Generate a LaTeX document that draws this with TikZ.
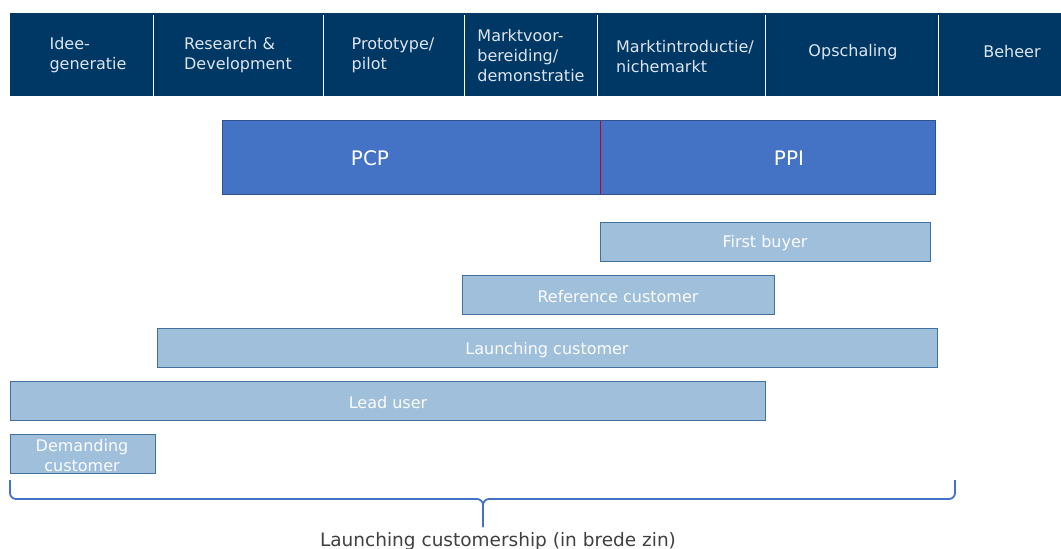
\documentclass[tikz,border=0pt]{standalone}
\usepackage{fontspec}
\setmainfont{DejaVu Sans}
\begin{document}
\definecolor{navy}{HTML}{003865}
\definecolor{headtext}{HTML}{DDE4EE}
\definecolor{pcpblue}{HTML}{4472C4}
\definecolor{pcpedge}{HTML}{2F528F}
\definecolor{barfill}{HTML}{9FBFDB}
\definecolor{baredge}{HTML}{41719C}
\definecolor{labelgrey}{HTML}{404040}
\begin{tikzpicture}[x=1pt,y=-1pt,
  cell/.style={fill=navy,draw=none,anchor=north west,inner sep=0pt,minimum height=83pt},
  divider/.style={draw=white,line width=0.9pt},
  headlabel/.style={text=headtext,align=left,inner sep=0pt,font=\fontsize{16}{20}\selectfont},
  phasebox/.style={fill=pcpblue,draw=pcpedge,line width=0.8pt,anchor=north west,inner sep=0pt,minimum height=74pt},
  phaselabel/.style={text=white,inner sep=0pt,font=\fontsize{20}{24}\selectfont},
  bar/.style={fill=barfill,draw=baredge,line width=0.8pt,anchor=north west,inner sep=0pt,minimum height=39pt},
  barlabel/.style={text=white!96!barfill,inner sep=0pt,align=center,font=\fontsize{16}{20}\selectfont},
  brace/.style={draw=pcpblue,line width=1.8pt,rounded corners=6pt}
]
\useasboundingbox[fill=white] (0,0) rectangle (1061,549);

% phase header band
\node[cell,minimum width=1051pt] (band) at (10,13) {};
\foreach \x/\n in {153/d1,323/d2,464/d3,597/d4,765/d5,938/d6}{
  \coordinate (\n t) at (\x,15);
  \coordinate (\n b) at (\x,96);
  \draw[divider] (\n t) -- (\n b);
}
\node[headlabel] (h1) at (88,55) {Idee-\\generatie};
\node[headlabel] (h2) at (238,55) {Research \&\\Development};
\node[headlabel] (h3) at (393,55) {Prototype/\\pilot};
\node[headlabel] (h4) at (531,56) {Marktvoor-\\bereiding/\\demonstratie};
\node[headlabel] (h5) at (685,57) {Marktintroductie/\\nichemarkt};
\node[headlabel] (h6) at (853,52) {Opschaling};
\node[headlabel] (h7) at (1012,52) {Beheer};

% procurement phases
\node[phasebox,minimum width=713pt] (pcpppi) at (222,120) {};
\coordinate (splitT) at (600,120.5);
\coordinate (splitB) at (600,193.5);
\draw[red!80!black,line width=0.8pt] (splitT) -- (splitB);
\node[phaselabel] (pcp) at (370,158) {PCP};
\node[phaselabel] (ppi) at (789,158) {PPI};

% customer roles
\node[bar,minimum width=330pt] (first) at (600,222) {};
\node[barlabel] (firstT) at (765,243.5) {First buyer};
\node[bar,minimum width=312pt] (ref) at (462,275) {};
\node[barlabel] (refT) at (618,296.5) {Reference customer};
\node[bar,minimum width=780pt] (launch) at (157,328) {};
\node[barlabel] (launchT) at (547,350.5) {Launching customer};
\node[bar,minimum width=755pt] (lead) at (10,381) {};
\node[barlabel] (leadT) at (388,403) {Lead user};
\node[bar,minimum width=145pt] (demand) at (10,434) {};
\node[barlabel,font=\fontsize{16}{20}\selectfont] (demandT) at (82,455.5) {Demanding\\customer};

% brace spanning all roles
\coordinate (bl) at (10,480);
\coordinate (blc) at (10,499);
\coordinate (br) at (955,480);
\coordinate (brc) at (955,499);
\coordinate (mid) at (483,499);
\coordinate (tip) at (483,527);
\draw[brace] (bl) -- (blc) -- (mid) -- (tip);
\draw[brace] (br) -- (brc) -- (mid) -- (tip);
\node[text=labelgrey,inner sep=0pt,font=\fontsize{18.5}{22}\selectfont] (span) at (498,541.5) {Launching customership (in brede zin)};
\end{tikzpicture}
\end{document}
